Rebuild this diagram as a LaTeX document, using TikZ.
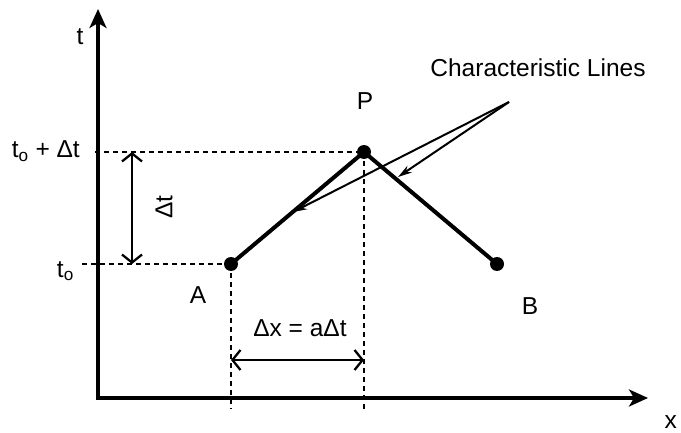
\documentclass[tikz,border=0pt]{standalone}
\usepackage{fontspec}
\setmainfont{Liberation Sans}
\usetikzlibrary{arrows.meta}
\begin{document}
\begin{tikzpicture}[x=1pt,y=-1pt,
  lbl/.style={font=\fontsize{24.5}{28}\selectfont, inner sep=0pt},
  dot/.style={circle,fill=black,inner sep=0pt,minimum size=14pt},
  axisline/.style={line width=3.2pt,{Stealth[length=19pt,width=17pt,inset=5pt]}-{Stealth[length=19pt,width=17pt,inset=5pt]}},
  guide/.style={line width=1.6pt,dash pattern=on 5pt off 4pt},
  dimarrow/.style={line width=2.3pt,{Straight Barb[length=8pt,width=20pt]}-{Straight Barb[length=8pt,width=20pt]}},
  charline/.style={line width=2pt,-{Stealth[length=14pt,width=8pt]}},
  wave/.style={line width=4pt}
]
\useasboundingbox (0,0) rectangle (681,433);

% axes
\coordinate (O) at (98,398);
\coordinate (tTop) at (98,9);
\coordinate (xEnd) at (648,398);
\draw[axisline] (tTop) -- (O) -- (xEnd);

% points
\coordinate (Apos) at (231,264);
\coordinate (Ppos) at (364,152);
\coordinate (Bpos) at (497,264);

% guide lines
\coordinate (tdL) at (95,152);
\coordinate (toL) at (82,264);
\coordinate (Adown) at (231,409);
\coordinate (Pdown) at (364,409);
\draw[guide] (tdL) -- (Ppos);
\draw[guide] (toL) -- (Apos);
\draw[guide] (Apos) -- (Adown);
\draw[guide] (Ppos) -- (Pdown);

% dimension arrows
\coordinate (dtTop) at (132,152);
\coordinate (dtBot) at (132,264);
\draw[dimarrow] (dtTop) -- (dtBot);
\coordinate (dxL) at (231,360);
\coordinate (dxR) at (364,360);
\draw[dimarrow] (dxL) -- (dxR);

% characteristic segments
\draw[wave] (Apos) -- (Ppos) -- (Bpos);
\node[dot] (A) at (Apos) {};
\node[dot] (P) at (Ppos) {};
\node[dot] (B) at (Bpos) {};

% characteristic lines pointer
\coordinate (C) at (509,102);
\coordinate (c1) at (293,212);
\coordinate (c2) at (398,177);
\draw[charline] (C) -- (c1);
\draw[charline] (C) -- (c2);

% labels
\node[lbl,anchor=base] (lt) at (80,45) {t};
\node[lbl,anchor=base east] (ltd) at (80,158) {t\textsubscript{o} + Δt};
\node[lbl,anchor=base east] (lto) at (74,277) {t\textsubscript{o}};
\node[lbl,anchor=center,rotate=90] (ldt) at (164,207) {Δt};
\node[lbl,anchor=base] (lP) at (365,110) {P};
\node[lbl,anchor=base] (lA) at (198,304) {A};
\node[lbl,anchor=base] (lB) at (530,315) {B};
\node[lbl,anchor=base] (ldx) at (300,337) {Δx = aΔt};
\node[lbl,anchor=base] (lC) at (538,77) {Characteristic Lines};
\node[lbl,anchor=base east] (lx) at (677,428) {x};
\end{tikzpicture}
\end{document}
